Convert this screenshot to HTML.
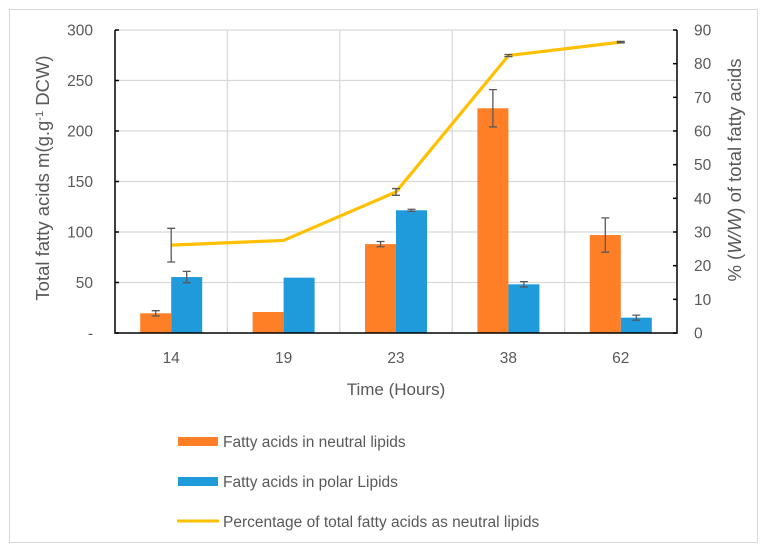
<!DOCTYPE html>
<html><head><meta charset="utf-8"><style>
body{margin:0;background:#fff;}
svg{display:block;font-family:"Liberation Sans",sans-serif;}
</style></head><body>
<svg id="chart" width="767" height="553" viewBox="0 0 767 553">
<rect x="9.5" y="9.5" width="748" height="533" fill="#fff" stroke="#d9d9d9"/>
<g id="grid"></g><g id="bars"></g><g id="line"></g><g id="axes"></g>
<text x="0" y="0" transform="translate(49,178) rotate(-90)" text-anchor="middle" font-size="18.5" fill="#595959">Total fatty acids m(g.g<tspan dy="-6" font-size="11">-1</tspan><tspan dy="6"> DCW)</tspan></text>
<text transform="translate(741,170) rotate(-90)" text-anchor="middle" font-size="18.5" fill="#595959">% (<tspan font-style="italic">W/W</tspan>) of total fatty acids</text>
<text x="396" y="395" text-anchor="middle" font-size="17" fill="#595959">Time (Hours)</text>
<g>
<rect x="178" y="437" width="40" height="9" fill="#ff7f27"/>
<text x="223" y="447" font-size="15.5" fill="#595959">Fatty acids in neutral lipids</text>
<rect x="178" y="477" width="40" height="9" fill="#1f9bdb"/>
<text x="223" y="487" font-size="15.5" fill="#595959">Fatty acids in polar Lipids</text>
<line x1="177" y1="521" x2="219" y2="521" stroke="#ffc000" stroke-width="3"/>
<text x="223" y="527" font-size="15.5" fill="#595959">Percentage of total fatty acids as neutral lipids</text>
</g>
</svg>
<script>
const categories=["14","19","23","38","62"];
const neutral=[19.5,20.8,88,222.5,97];
const neutralErr=[2.6,0,2.6,18.5,17];
const polar=[55.4,54.8,121.5,48.2,15.2];
const polarErr=[5.6,0,1,2.7,2.5];
const pct=[26.1,27.5,41.9,82.4,86.4];
const pctErr=[5,0,1,0.3,0.2];
const leftTicks=[0,50,100,150,200,250,300];
const leftTickLabels=["-","50","100","150","200","250","300"];
const rightTicks=[0,10,20,30,40,50,60,70,80,90];

const NS="http://www.w3.org/2000/svg";
const X0=115,X1=677,Y0=333,Y1=30;
const cw=(X1-X0)/categories.length;
const yL=v=>Y0-(v/300)*(Y0-Y1);
const yR=v=>Y0-(v/90)*(Y0-Y1);
const xC=i=>X0+cw*(i+0.5);
function mk(parent,tag,attrs){const e=document.createElementNS(NS,tag);for(const k in attrs)e.setAttribute(k,attrs[k]);document.getElementById(parent).appendChild(e);return e;}
leftTicks.forEach((t,i)=>{if(t===0)return;const l=mk('grid','line',{x1:X0,x2:X1,y1:yL(t),y2:yL(t),stroke:'#d9d9d9','stroke-width':1.3});

});
for(let i=1;i<categories.length;i++){const l=mk('grid','line',{x1:X0+cw*i,x2:X0+cw*i,y1:Y1,y2:Y0,stroke:'#d9d9d9','stroke-width':1.3});

}
const bw=31;
function errbar(g,x,y1,y2,name){if(y1===y2)return;
const l=mk(g,'path',{d:`M${x},${y1}V${y2}M${x-4},${y1}H${x+4}M${x-4},${y2}H${x+4}`,stroke:'#595959','stroke-width':1.3,fill:'none'});

}
categories.forEach((c,i)=>{
const xc=xC(i);
const r1=mk('bars','rect',{x:xc-bw,y:yL(neutral[i]),width:bw,height:Y0-yL(neutral[i]),fill:'#ff7f27'});


const r2=mk('bars','rect',{x:xc,y:yL(polar[i]),width:bw,height:Y0-yL(polar[i]),fill:'#1f9bdb'});


errbar('bars',xc-bw/2,yL(neutral[i]+neutralErr[i]),yL(neutral[i]-neutralErr[i]),'error-neutral-'+c);
errbar('bars',xc+bw/2,yL(polar[i]+polarErr[i]),yL(polar[i]-polarErr[i]),'error-polar-'+c);
const t=mk('axes','text',{x:xc,y:363,'text-anchor':'middle','font-size':15.5,fill:'#595959'});
t.textContent=c;


});
const pl=mk('line','polyline',{points:pct.map((v,i)=>xC(i)+','+yR(v)).join(' '),fill:'none',stroke:'#ffc000','stroke-width':3.2,'stroke-linejoin':'round'});


pct.forEach((v,i)=>errbar('line',xC(i),yR(v+pctErr[i]),yR(v-pctErr[i]),'error-percentage-'+categories[i]));
const ax=mk('axes','path',{d:`M${X0},${Y1}V${Y0}H${X1}V${Y1}`,stroke:'#000','stroke-width':1.5,fill:'none'});


leftTicks.forEach((t,i)=>{
const tk=mk('axes','line',{x1:X0,x2:X0+4,y1:yL(t),y2:yL(t),stroke:'#000','stroke-width':1.5});


const tx=mk('axes','text',{x:93,y:yL(t)+5.5,'text-anchor':'end','font-size':15.5,fill:'#595959'});
tx.textContent=leftTickLabels[i];

});
rightTicks.forEach(t=>{
const tk=mk('axes','line',{x1:X1-4,x2:X1,y1:yR(t),y2:yR(t),stroke:'#000','stroke-width':1.5});


const tx=mk('axes','text',{x:694,y:yR(t)+5.5,'text-anchor':'start','font-size':15.5,fill:'#595959'});
tx.textContent=String(t);

});
</script>
</body></html>
